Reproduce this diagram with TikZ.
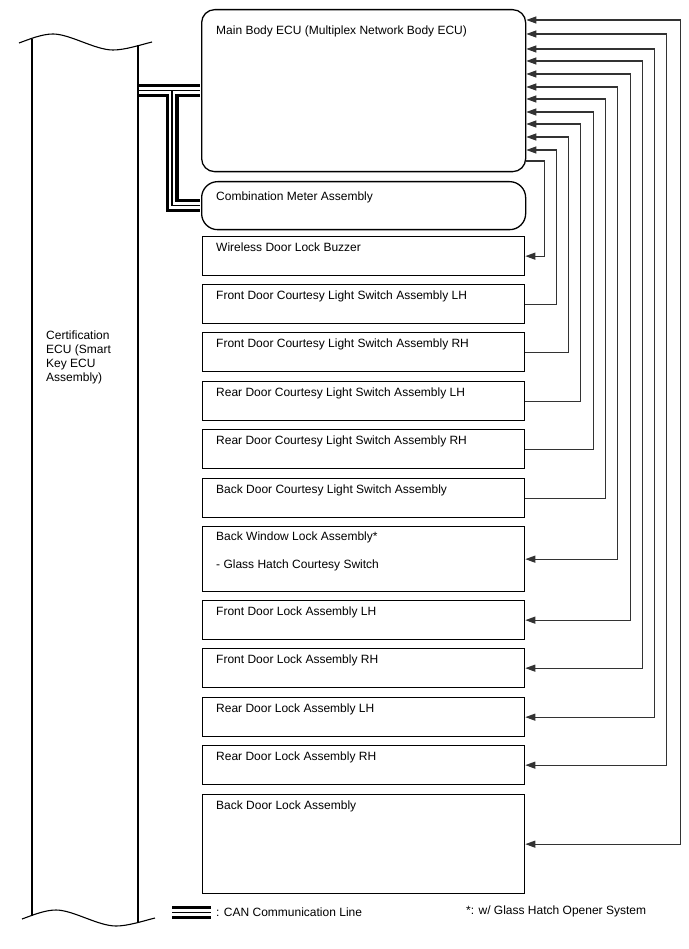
\documentclass[tikz,border=0pt]{standalone}
\usepackage{fontspec}
\setmainfont{Liberation Sans}
\usetikzlibrary{arrows.meta}

\begin{document}
\begin{tikzpicture}[x=1pt,y=-1pt,
    >={Triangle[length=10pt,width=7pt]},
    ecu/.style={draw, line width=1.3pt, rounded corners=13pt, minimum width=324pt, anchor=north west, inner sep=0pt},
    unit/.style={draw, line width=1.3pt, minimum width=322pt, anchor=north west, inner sep=0pt},
    txt/.style={anchor=north west, inner sep=0pt, align=left, font=\fontsize{12}{14}\selectfont},
    link/.style={line width=1.1pt, black!80},
    wave/.style={line width=1.1pt}]

    \useasboundingbox (0,0) rectangle (688,949);

    % certification ECU column
    \foreach \s/\t in {0/0, 876/3} {
        \draw[wave, xshift=\t, yshift=-\s] (19,43) .. controls (30,39) and (42,34) .. (53,34)
            .. controls (70,34) and (95,50) .. (113,50) .. controls (125,50) and (140,45) .. (152,42);
    }
    \draw[wave] (32,39) -- (32,916);
    \draw[wave] (138,45) -- (138,922);
    \coordinate (certR) at (138,0);
    \coordinate (busx) at (172,0);
    \node[txt] (cert) at (46,331) {Certification\\ECU (Smart\\Key ECU\\Assembly)};

    \node[ecu, minimum height=162pt] (main) at (201,9) {};
    \node[txt] (main-t) at ([shift={(15,17)}]main.north west) {Main Body ECU (Multiplex Network Body ECU)};
    \node[ecu, rounded corners=16pt, minimum height=48pt] (combi) at (201,181) {};
    \node[txt] (combi-t) at ([shift={(15,11)}]combi.north west) {Combination Meter Assembly};

    \foreach \n/\y/\h/\t in {buzzer/236/39/Wireless Door Lock Buzzer,
        fcl/284/39/Front Door Courtesy Light Switch Assembly LH,
        fcr/332/39/Front Door Courtesy Light Switch Assembly RH,
        rcl/381/39/Rear Door Courtesy Light Switch Assembly LH,
        rcr/429/39/Rear Door Courtesy Light Switch Assembly RH,
        bcs/478/39/Back Door Courtesy Light Switch Assembly,
        fllock/600/39/Front Door Lock Assembly LH,
        frlock/648/39/Front Door Lock Assembly RH,
        rllock/697/39/Rear Door Lock Assembly LH,
        rrlock/745/39/Rear Door Lock Assembly RH,
        bdlock/794/99/Back Door Lock Assembly} {
        \node[unit, minimum height=\h] (\n) at (202,\y) {};
        \node[txt] (\n-t) at ([shift={(14,7)}]\n.north west) {\t};
    }
    \node[unit, minimum height=65] (bwlock) at (202,526) {};
    \node[txt] (bwlock-t) at ([shift={(14,6)}]bwlock.north west) {Back Window Lock Assembly*\\[14pt]- Glass Hatch Courtesy Switch};

    % signal lines to main body ECU
    \foreach \n/\d/\l in {bdlock/11/154, rrlock/25/140, rllock/40/128, frlock/52/116, fllock/65/104, bwlock/78/91}
        \draw[link, <->] ([yshift=-\d]main.north east) -- ++(\l,0) |- (\n.east);
    \foreach \n/\d/\l in {bcs/90/79, rcr/103/67, rcl/115/54, fcr/128/42, fcl/141/30}
        \draw[link, <-] ([yshift=-\d]main.north east) -- ++(\l,0) |- (\n.east);
    \draw[link, ->] ([yshift=-152]main.north east) -- ++(18,0) |- (buzzer.east);

    % CAN
    \coordinate (lgA) at (172,912.5);
    \coordinate (lgB) at (211,912.5);
    \foreach \w/\c in {13/black, 6.5/white, 1.5/black} {
        \draw[line width=\w, \c, shorten <=0.5pt, shorten >=0.6pt] (main.west -| certR) -- (main.west);
        \draw[line width=\w, \c, shorten >=0.6pt] (main.west -| busx) |- (combi.west);
        \draw[line width=\w, \c] (lgA) -- (lgB);
    }
    \node[txt, anchor=west] (lg-t) at (216,912) {: CAN Communication Line};
    \node[txt, anchor=west] (note) at (466,911) {*: w/ Glass Hatch Opener System};
\end{tikzpicture}
\end{document}
